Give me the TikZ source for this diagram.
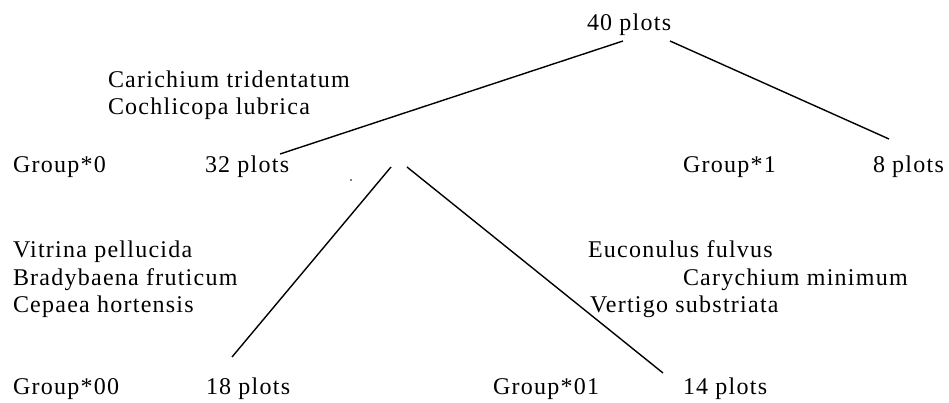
\documentclass[tikz,border=0pt]{standalone}
\usepackage{fontspec}
\setmainfont{Liberation Serif}[LetterSpace=5.2]
\begin{document}
\begin{tikzpicture}[x=1pt,y=-1pt,
  lbl/.style={anchor=base west,inner sep=0pt,outer sep=0pt,font=\fontsize{24}{27.6}\selectfont},
  edge/.style={line width=1.4pt,black}]
\useasboundingbox (0,0) rectangle (949,403);
% texts
\node[lbl] (n40) at (587,31) {40 plots};
\node[lbl] (car) at (108,88) {Carichium tridentatum};
\node[lbl] (coc) at (108,115) {Cochlicopa lubrica};
\node[lbl] (g0) at (13,173) {Group*0};
\node[lbl] (n32) at (205,173) {32 plots};
\node[lbl] (g1) at (683,173) {Group*1};
\node[lbl] (n8) at (873,173) {8 plots};
\node[lbl] (vit) at (13,257) {Vitrina pellucida};
\node[lbl] (bra) at (13,285) {Bradybaena fruticum};
\node[lbl] (cep) at (13,312) {Cepaea hortensis};
\node[lbl] (euc) at (588,257) {Euconulus fulvus};
\node[lbl] (cry) at (683,285) {Carychium minimum};
\node[lbl] (ver) at (590,312) {Vertigo substriata};
\node[lbl] (g00) at (13,394) {Group*00};
\node[lbl] (n18) at (206,394) {18 plots};
\node[lbl] (g01) at (493,394) {Group*01};
\node[lbl] (n14) at (683,394) {14 plots};
% connector ends
\coordinate (a1) at (623,41);
\coordinate (a2) at (280,154);
\coordinate (b1) at (670,41);
\coordinate (b2) at (889,139);
\coordinate (c1) at (391,167);
\coordinate (c2) at (232,357);
\coordinate (d1) at (407,167);
\coordinate (d2) at (663,373);
\draw[edge] (a1) -- (a2);
\draw[edge] (b1) -- (b2);
\draw[edge] (c1) -- (c2);
\draw[edge] (d1) -- (d2);
\fill (351,180) circle (0.8);
\end{tikzpicture}
\end{document}
